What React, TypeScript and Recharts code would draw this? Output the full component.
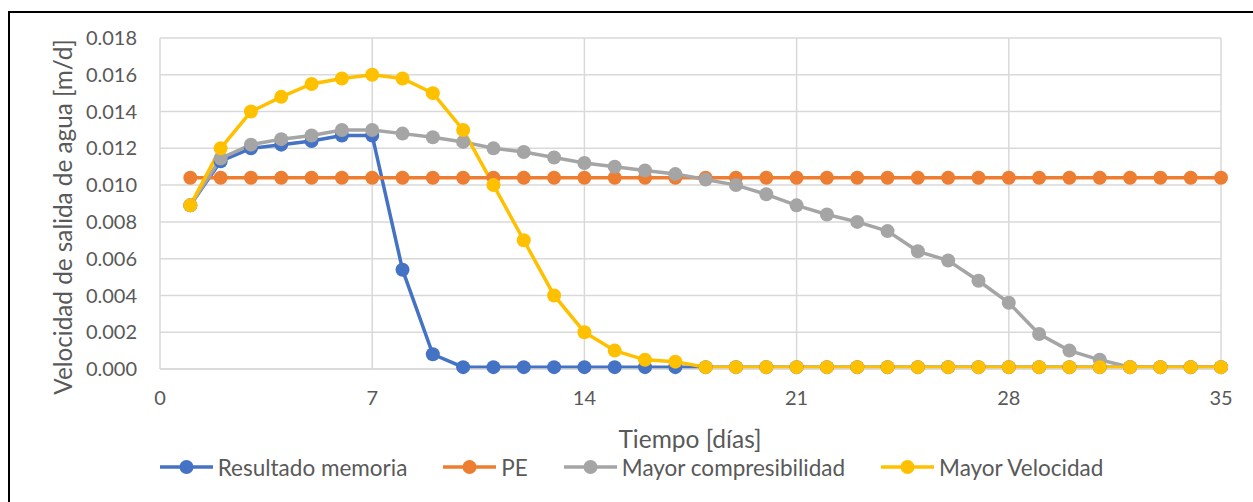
import { LineChart, Line, XAxis, YAxis, CartesianGrid, Legend } from 'recharts';

const days = [1, 2, 3, 4, 5, 6, 7, 8, 9, 10, 11, 12, 13, 14, 15, 16, 17, 18, 19, 20, 21, 22, 23, 24, 25, 26, 27, 28, 29, 30, 31, 32, 33, 34, 35];

const resultadoMemoria = [0.0089, 0.0113, 0.0120, 0.0122, 0.0124, 0.0127, 0.0127, 0.0054, 0.0008, 0.0001, 0.0001, 0.0001, 0.0001, 0.0001, 0.0001, 0.0001, 0.0001, 0.0001, 0.0001, 0.0001, 0.0001, 0.0001, 0.0001, 0.0001, 0.0001, 0.0001, 0.0001, 0.0001, 0.0001, 0.0001, 0.0001, 0.0001, 0.0001, 0.0001, 0.0001];
const pe = [0.0104, 0.0104, 0.0104, 0.0104, 0.0104, 0.0104, 0.0104, 0.0104, 0.0104, 0.0104, 0.0104, 0.0104, 0.0104, 0.0104, 0.0104, 0.0104, 0.0104, 0.0104, 0.0104, 0.0104, 0.0104, 0.0104, 0.0104, 0.0104, 0.0104, 0.0104, 0.0104, 0.0104, 0.0104, 0.0104, 0.0104, 0.0104, 0.0104, 0.0104, 0.0104];
const mayorCompresibilidad = [0.0089, 0.01145, 0.0122, 0.0125, 0.0127, 0.0130, 0.0130, 0.0128, 0.0126, 0.01235, 0.0120, 0.0118, 0.0115, 0.0112, 0.0110, 0.0108, 0.0106, 0.0103, 0.0100, 0.0095, 0.0089, 0.0084, 0.0080, 0.0075, 0.0064, 0.0059, 0.0048, 0.0036, 0.0019, 0.0010, 0.0005, 0.0001, 0.0001, 0.0001, 0.0001];
const mayorVelocidad = [0.0089, 0.0120, 0.0140, 0.0148, 0.0155, 0.0158, 0.0160, 0.0158, 0.0150, 0.0130, 0.0100, 0.0070, 0.0040, 0.0020, 0.0010, 0.0005, 0.0004, 0.0001, 0.0001, 0.0001, 0.0001, 0.0001, 0.0001, 0.0001, 0.0001, 0.0001, 0.0001, 0.0001, 0.0001, 0.0001, 0.0001, 0.0001, 0.0001, 0.0001, 0.0001];

const xTicks = [0, 7, 14, 21, 28, 35];
const yTicks = [0, 0.002, 0.004, 0.006, 0.008, 0.01, 0.012, 0.014, 0.016, 0.018];

const series = [
  { key: 'memoria', name: 'Resultado memoria', color: '#4472C4', values: resultadoMemoria },
  { key: 'pe', name: 'PE', color: '#ED7D31', values: pe },
  { key: 'compresibilidad', name: 'Mayor compresibilidad', color: '#A5A5A5', values: mayorCompresibilidad },
  { key: 'velocidad', name: 'Mayor Velocidad', color: '#FFC000', values: mayorVelocidad },
];

const data = days.map((d, i) => {
  const row: any = { day: d };
  series.forEach((s) => { row[s.key] = s.values[i]; });
  return row;
});

const FONT = 'Lato, "Open Sans", sans-serif';
const TEXT = '#595959';

function LegendContent() {
  return (
    <div style={{ height: 30, display: 'flex', justifyContent: 'center', alignItems: 'center', gap: 36, fontFamily: FONT, fontSize: 22.5, color: TEXT }}>
      {series.map((s) => (
        <div key={s.key} style={{ display: 'flex', alignItems: 'center' }}>
          <svg width={53} height={16} style={{ marginRight: 5 }}>
            <line x1={0} y1={8} x2={53} y2={8} stroke={s.color} strokeWidth={3.5} />
            <circle cx={26.5} cy={8} r={7} fill={s.color} />
          </svg>
          <span>{s.name}</span>
        </div>
      ))}
    </div>
  );
}

export default function App() {
  return (
    <div style={{ position: 'absolute', left: 0, top: 0, width: 1253, height: 502, overflow: 'hidden', background: '#fff' }}>
      <div style={{ position: 'absolute', left: 8, top: 11, width: 1300, height: 600, borderLeft: '2px solid #000', borderTop: '2px solid #000' }} />
      <div style={{ position: 'absolute', left: 0, top: 0 }}>
        <LineChart width={1253} height={502} data={data} margin={{ top: 38, right: 32, bottom: 43, left: 0 }}>
          <CartesianGrid stroke="#D9D9D9" strokeWidth={1.5} />
          <XAxis
            dataKey="day"
            type="number"
            domain={[0, 35]}
            ticks={xTicks}
            height={60}
            axisLine={{ stroke: '#D9D9D9', strokeWidth: 1.5 }}
            tickLine={false}
            tickSize={6}
            tickMargin={16}
            tick={{ fill: TEXT, fontSize: 20, fontFamily: FONT }}
            label={{
              content: () => (
                <text x={690} y={438} textAnchor="middle" dominantBaseline="central" fill={TEXT} fontSize={24.5} fontFamily={FONT}>
                  Tiempo [días]
                </text>
              ),
            }}
          />
          <YAxis
            type="number"
            domain={[0, 0.018]}
            ticks={yTicks}
            width={160}
            axisLine={false}
            tickLine={false}
            tickSize={6}
            tickMargin={17}
            tickFormatter={(v: number) => v.toFixed(3)}
            tick={{ fill: TEXT, fontSize: 20, fontFamily: FONT }}
            label={{
              content: () => (
                <text x={62} y={217} textAnchor="middle" dominantBaseline="central" fill={TEXT} fontSize={24.3} fontFamily={FONT} transform="rotate(-90 62 217)">
                  Velocidad de salida de agua [m/d]
                </text>
              ),
            }}
          />
          <Legend verticalAlign="bottom" wrapperStyle={{ top: 452, left: 5, width: 1253 }} content={() => <LegendContent />} />
          {series.map((s) => (
            <Line
              key={s.key}
              dataKey={s.key}
              name={s.name}
              stroke={s.color}
              strokeWidth={3.5}
              dot={{ r: 7, fill: s.color, stroke: s.color, strokeWidth: 0 }}
              activeDot={false}
              isAnimationActive={false}
            />
          ))}
        </LineChart>
      </div>
    </div>
  );
}
